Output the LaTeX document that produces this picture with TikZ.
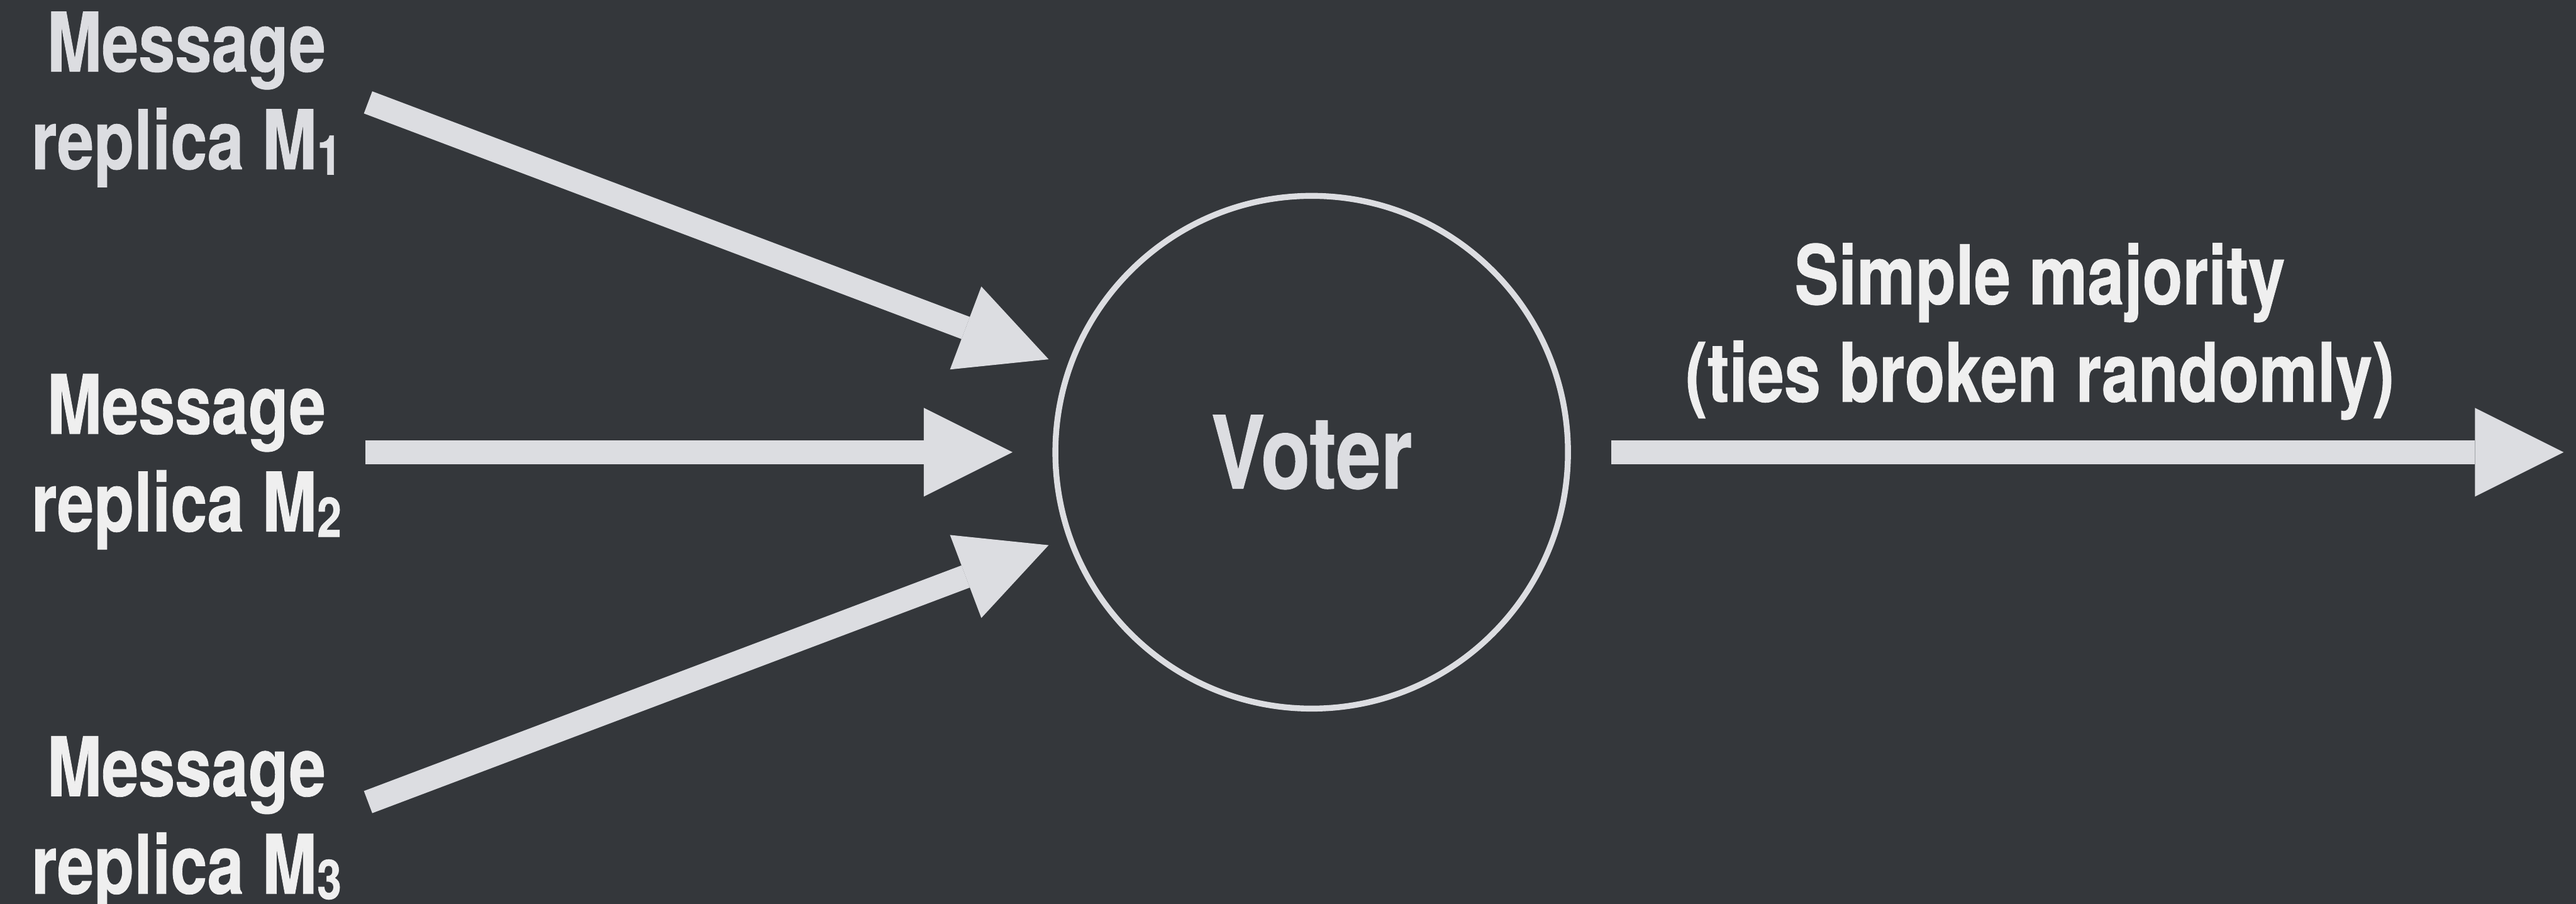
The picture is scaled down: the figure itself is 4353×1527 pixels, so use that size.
\documentclass[tikz,border=0pt]{standalone}
\usepackage{fontspec}
\newfontfamily\slidefont{TeX Gyre Heros}[FakeStretch=0.80, FakeBold=0.6]
\usetikzlibrary{arrows.meta}

\definecolor{slidebg}{HTML}{34373B}
\definecolor{inkgray}{HTML}{DCDDE1}
\definecolor{inkwhite}{HTML}{EFEFEF}

% small lowered index after "M"
\newcommand\replsub[1]{\raisebox{-1.3pt}{\fontsize{13.2pt}{13.2pt}\selectfont #1}}
% two centred lines whose base is the first line's baseline
\newcommand\twolines[2]{\begin{tabular}[t]{@{}c@{}}#1\\#2\end{tabular}}

\begin{document}
\begin{tikzpicture}[x=0.005cm, y=-0.005cm,
  lbl/.style={font=\slidefont\bfseries\fontsize{19.8pt}{23.47pt}\selectfont,
              inner sep=0pt, anchor=base},
  flow/.style={draw=inkgray, line width=0.2cm,
               -{Triangle[length=0.75cm, width=0.75cm, line width=0pt]}},
  votercircle/.style={circle, draw=inkgray, line width=0.05cm,
              minimum size=4.335cm, inner sep=0pt, text=inkgray,
              font=\slidefont\bfseries\fontsize{24.3pt}{29pt}\selectfont}]

  % backdrop
  \fill[slidebg] (0,0) rectangle (4353,1527);
  \useasboundingbox (0,0) rectangle (4353,1527);

  % input labels
  \node[lbl, text=inkgray]  (m1) at (315,121)  {\twolines{Message}{replica M\replsub{1}}};
  \node[lbl, text=inkwhite] (m2) at (315,733)  {\twolines{Message}{replica M\replsub{2}}};
  \node[lbl, text=inkwhite] (m3) at (315,1345) {\twolines{Message}{replica M\replsub{3}}};

  % the voter
  \node[votercircle] (voter) at (2216.5,764) {Voter};

  % output label
  \node[lbl, text=inkwhite] (rule) at (3447,514)
       {\twolines{Simple majority}{(ties broken randomly)}};

  % arrow ends
  \coordinate (s1) at (622,173);   \coordinate (t1) at (1772,607);
  \coordinate (s2) at (617,764);   \coordinate (t2) at (1711,764);
  \coordinate (s3) at (622,1355);  \coordinate (t3) at (1772,921);
  \coordinate (o1) at (2723,764);  \coordinate (o2) at (4332,764);

  % arrows
  \draw[flow] (s1) -- (t1);
  \draw[flow] (s2) -- (t2);
  \draw[flow] (s3) -- (t3);
  \draw[flow] (o1) -- (o2);
\end{tikzpicture}
\end{document}
